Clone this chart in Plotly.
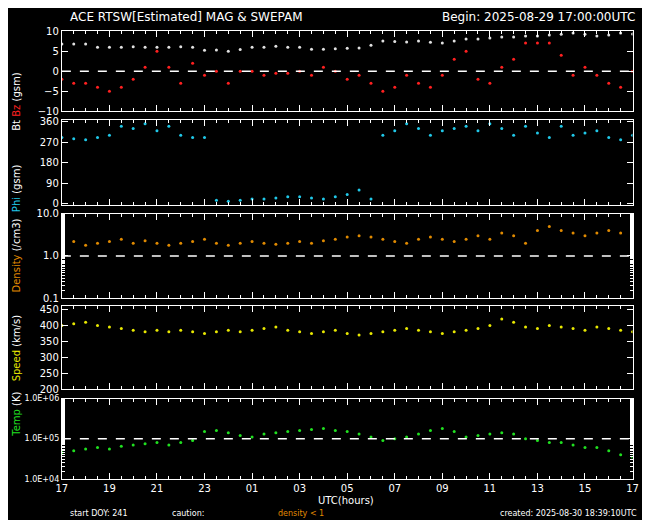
import numpy as np
import plotly.graph_objects as go
from plotly.subplots import make_subplots

# half-hour samples, 17:00 -> 17:00 UTC
hours = np.arange(0, 24.01, 0.5)
bt = [6.8, 6.8, 6.8, 6.0, 6.0, 6.0, 6.1, 6.0, 6.0, 6.0, 6.1, 6.0,
      5.2, 5.3, 5.0, 5.4, 6.0, 6.0, 6.2, 6.0, 6.0, 5.5, 5.5, 5.6, 5.7, 5.8,
      6.5, 7.5, 7.4, 7.3, 7.5, 7.2, 7.0, 7.5, 8.0, 8.0, 8.3, 8.5, 8.5, 8.8,
      8.8, 9.0, 9.2, 9.5, 9.2, 8.8, 9.0, 9.5, 9.3]
bz = [-2, -3, -3, -4, -5, -4, -2, 1, 5, 1, -3, 2, -1, 0, -3, 0, 0, -1, -0.5,
      -0.5, 0, -1, 1, 0, -2, -1, -3, -5, -4, -1, -3, -4, -1, 3, 5, -2, -3, 1,
      3, 7, 7, 7, 4, -1, 1, -1, -3, -4, 0]
phi = [290, 285, 280, 290, 300, 340, 330, 350, 320, 340, 300, 290, 290, 15,
       10, 15, 20, 20, 25, 30, 30, 25, 20, 30, 40, 60, 20, 300, 320, 350, 330,
       300, 320, 330, 340, 320, 350, 330, 300, 340, 310, 290, 340, 300, 310,
       320, 290, 280, 300]
density = [2.0, 2.2, 1.8, 2.0, 2.2, 2.5, 2.0, 2.3, 2.0, 1.8, 2.0, 2.2, 2.5,
           2.0, 1.8, 2.0, 2.2, 2.0, 1.9, 2.0, 2.2, 2.0, 2.3, 2.5, 2.8, 3.0,
           2.8, 2.5, 2.2, 2.0, 2.5, 2.8, 2.5, 2.2, 2.5, 3.0, 2.5, 3.5, 3.0,
           2.0, 4.0, 5.0, 4.0, 3.5, 3.0, 3.5, 4.0, 3.5, 3.5]
speed = [400, 405, 410, 400, 395, 390, 385, 380, 385, 380, 385, 380, 375, 380,
         385, 380, 385, 390, 395, 385, 380, 375, 380, 385, 375, 370, 375, 380,
         385, 390, 385, 380, 375, 380, 385, 390, 400, 420, 410, 395, 390, 400,
         395, 390, 385, 395, 390, 385, 380]
temp_k = [45, 50, 55, 60, 55, 65, 70, 75, 80, 70, 80, 90, 150, 160, 140, 120,
          110, 130, 140, 150, 160, 170, 180, 160, 150, 130, 110, 90, 100, 110,
          130, 160, 180, 150, 110, 120, 130, 140, 130, 100, 90, 80, 80, 70, 60,
          60, 50, 40, 35]
temp = [t * 1000 for t in temp_k]
hour_labels = ["17", "19", "21", "23", "01", "03", "05", "07", "09", "11", "13", "15", "17"]

fig = make_subplots(rows=5, cols=1, shared_xaxes=True)
mk = dict(size=3)
fig.add_trace(go.Scatter(x=hours, y=bt, mode="markers", marker=dict(color="#e0e0e0", **mk)), 1, 1)
fig.add_trace(go.Scatter(x=hours, y=bz, mode="markers", marker=dict(color="#ff2020", **mk)), 1, 1)
fig.add_trace(go.Scatter(x=hours, y=phi, mode="markers", marker=dict(color="#20c8e8", **mk)), 2, 1)
fig.add_trace(go.Scatter(x=hours, y=density, mode="markers", marker=dict(color="#e08a00", **mk)), 3, 1)
fig.add_trace(go.Scatter(x=hours, y=speed, mode="markers", marker=dict(color="#e8e800", **mk)), 4, 1)
fig.add_trace(go.Scatter(x=hours, y=temp, mode="markers", marker=dict(color="#20e020", **mk)), 5, 1)

domains = [(0.8083, 0.9664), (0.6245, 0.7905), (0.4407, 0.6067), (0.2609, 0.4249), (0.0850, 0.2431)]
ax_style = dict(showgrid=False, zeroline=False, showline=True, linecolor="white", linewidth=1,
                mirror="ticks", ticks="inside", tickcolor="white", ticklen=6,
                tickfont=dict(color="white", size=10))
for i, d in enumerate(domains, start=1):
    fig.update_xaxes(domain=[0.075, 0.9695], range=[0, 24], tickvals=list(range(0, 25, 2)),
                     ticktext=hour_labels, showticklabels=(i == 5),
                     minor=dict(ticks="inside", ticklen=3, tickcolor="white", dtick=0.5),
                     row=i, col=1, **ax_style)
    fig.update_yaxes(domain=list(d), row=i, col=1, **ax_style)

fig.update_yaxes(range=[-10, 10], tickvals=[-10, -5, 0, 5, 10], row=1, col=1)
fig.update_yaxes(range=[-5, 365], tickvals=[0, 90, 180, 270, 360], row=2, col=1)
fig.update_yaxes(type="log", range=[-1, 1], tickvals=[0.1, 1, 10], ticktext=["0.1", "1.0", "10.0"],
                 minor=dict(ticks="inside", ticklen=3, tickcolor="white"), row=3, col=1)
fig.update_yaxes(range=[200, 460], tickvals=[200, 250, 300, 350, 400, 450], row=4, col=1)
fig.update_yaxes(type="log", range=[4, 6], tickvals=[1e4, 1e5, 1e6],
                 ticktext=["1.0E+04", "1.0E+05", "1.0E+06"], tickfont=dict(size=8),
                 minor=dict(ticks="inside", ticklen=3, tickcolor="white"), row=5, col=1)

dash = dict(color="white", width=1.5, dash="dash")
fig.add_hline(y=0, line=dash, row=1, col=1)
fig.add_hline(y=1, line=dash, row=3, col=1)
fig.add_hline(y=1e5, line=dash, row=5, col=1)

labels = [('<span style="color:white">Bt</span> <span style="color:#ff2020">Bz</span> (gsm)', domains[0]),
          ('<span style="color:#20c8e8">Phi</span> (gsm)', domains[1]),
          ('<span style="color:#e08a00">Density</span> (/cm3)', domains[2]),
          ('<span style="color:#e8e800">Speed</span> (km/s)', domains[3]),
          ('<span style="color:#20e020">Temp</span> (K)', domains[4])]
for txt, d in labels:
    fig.add_annotation(text=txt, x=0.004, y=(d[0] + d[1]) / 2, xref="paper", yref="paper",
                       xanchor="center", textangle=-90, showarrow=False,
                       font=dict(color="white", size=10))

foot = [("ACE RTSW[Estimated] MAG & SWEPAM", 0.084, 0.994, "left", "white", 12),
        ("Begin: 2025-08-29 17:00:00UTC", 0.977, 0.994, "right", "white", 12),
        ("UTC(hours)", 0.52, 0.043, "center", "white", 10),
        ("start DOY: 241", 0.084, 0.016, "left", "white", 8),
        ("caution:", 0.245, 0.016, "left", "white", 8),
        ("density < 1", 0.41, 0.016, "left", "#e08a00", 8),
        ("created: 2025-08-30 18:39:10UTC", 0.98, 0.016, "right", "white", 8)]
for txt, x, y, anc, col, sz in foot:
    fig.add_annotation(text=txt, x=x, y=y, xref="paper", yref="paper", xanchor=anc,
                       yanchor="middle", showarrow=False, font=dict(color=col, size=sz))

fig.update_layout(width=650, height=520, margin=dict(l=0, r=0, t=0, b=0),
                  paper_bgcolor="black", plot_bgcolor="black", showlegend=False,
                  font=dict(family="DejaVu Sans", color="white"))
fig.write_html("out.html")
